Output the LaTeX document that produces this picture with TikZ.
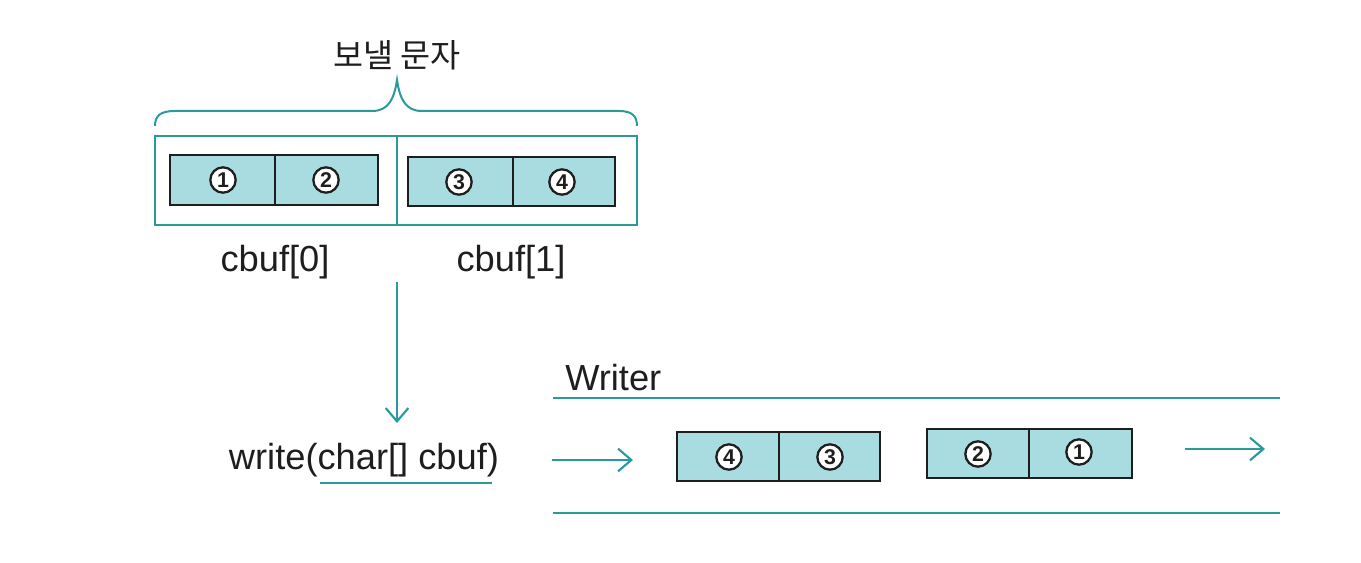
\documentclass[tikz,border=0pt]{standalone}
\usepackage{fontspec}
\setmainfont{Liberation Sans}
\newfontfamily\krfont{Noto Sans CJK KR}
\usetikzlibrary{arrows.meta}
\definecolor{teal1}{HTML}{2A9A9C}
\definecolor{cellfill}{HTML}{A9DCE0}
\definecolor{ink}{HTML}{1E1E1E}
\tikzset{
  tline/.style={draw=teal1, line width=1.6pt},
  cell/.style={draw=ink, line width=1.8pt, fill=cellfill},
  num/.style={circle, draw=ink, line width=1.7pt, fill=white, inner sep=0pt, minimum size=19pt, font=\bfseries\fontsize{16}{16}\selectfont, text=ink},
  lbl/.style={font=\fontsize{27.2}{30}\selectfont, text=ink, inner sep=0pt},
  tarrow/.style={draw=teal1, line width=1.6pt, -{Straight Barb[length=10pt, width=17pt, line width=1.6pt]}},
}
\begin{document}
\begin{tikzpicture}[x=0.75pt,y=-0.75pt]
\useasboundingbox (0,0) rectangle (1361,563);
% title
\node[lbl, font=\krfont\fontsize{24.5}{28}\selectfont] (title) at (397,55) {보낼 문자};
% brace
\draw[tline, line width=1.5pt] (155,126) .. controls (155,116) and (160,111) .. (175,111)
  -- (372,111) .. controls (388,111) and (394,100) .. (397,80)
  .. controls (400,100) and (406,111) .. (422,111) -- (619,111)
  .. controls (632,111) and (637,116) .. (637,126);
% outer box
\draw[tline] (155,136) rectangle (637,225);
\draw[tline] (397,136) -- (397,225);
% inner cells top
\draw[cell] (170,155) rectangle (378,205);
\draw[cell] (275,155) -- (275,205);
\draw[cell] (408,157) rectangle (615,206);
\draw[cell] (513,157) -- (513,206);
\node[num] (t1) at (223,180) {1};
\node[num] (t2) at (326,180) {2};
\node[num] (t3) at (459,182) {3};
\node[num] (t4) at (562,182) {4};
% labels
\node[lbl] (cb0) at (275,262) {cbuf[0]};
\node[lbl] (cb1) at (511,262) {cbuf[1]};
% down arrow
\coordinate (dtop) at (397,282);
\coordinate (dbot) at (397,423);
\draw[tarrow] (dtop) -- (dbot);
% write
\node[lbl] (write) at (364,460) {write(char[] cbuf)};
\coordinate (ul1) at (320,483);
\coordinate (ul2) at (492,483);
\draw[tline, line width=1.4pt] (ul1) -- (ul2);
% Writer
\node[lbl, anchor=west] (writer) at (565,378) {Writer};
\coordinate (wt1) at (553,398);
\coordinate (wt2) at (1280,398);
\coordinate (wb1) at (553,513);
\coordinate (wb2) at (1280,513);
\draw[tline, line width=1.4pt] (wt1) -- (wt2);
\draw[tline, line width=1.4pt] (wb1) -- (wb2);
% arrows in stream
\coordinate (a1s) at (552,460);
\coordinate (a1e) at (633,460);
\draw[tarrow] (a1s) -- (a1e);
\coordinate (a2s) at (1185,449);
\coordinate (a2e) at (1265,449);
\draw[tarrow] (a2s) -- (a2e);
% cells bottom
\draw[cell] (677,432) rectangle (880,481);
\draw[cell] (779,432) -- (779,481);
\draw[cell] (927,429) rectangle (1132,478);
\draw[cell] (1029,429) -- (1029,478);
\node[num] (b4) at (729,457) {4};
\node[num] (b3) at (830,457) {3};
\node[num] (b2) at (978,454) {2};
\node[num] (b1) at (1079,452) {1};
\end{tikzpicture}
\end{document}
